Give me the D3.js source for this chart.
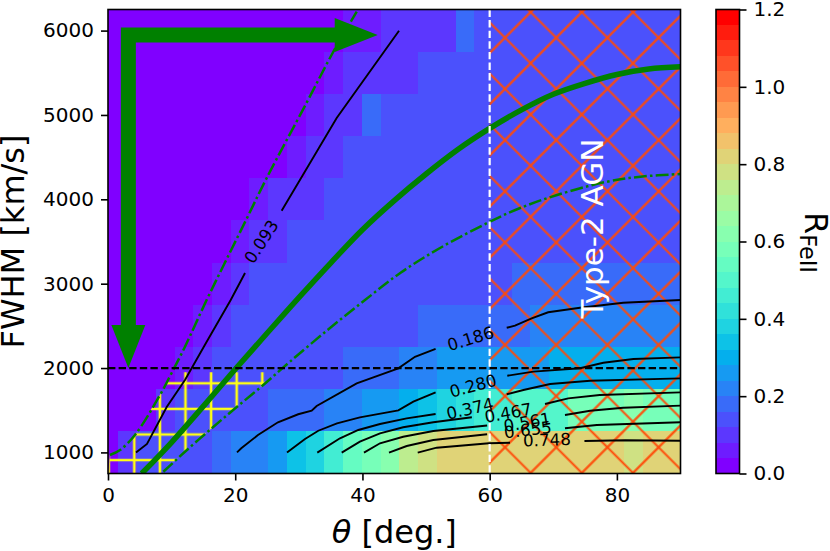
<!DOCTYPE html>
<html>
<head>
<meta charset="utf-8">
<script src="https://cdn.jsdelivr.net/npm/d3@7"></script>
<style>
  html, body { margin: 0; padding: 0; background: #fff; }
  text { font-family: "DejaVu Sans", sans-serif; fill: #000; }
</style>
</head>
<body>
<svg id="chart" width="830" height="551"></svg>
<script>
// cell edges of the map
var thetaEdges = [0, 1.62, 4.57, 7.51, 10.46, 13.40, 16.35, 19.29, 22.24, 25.18, 28.13, 31.07, 34.02, 36.96, 39.91, 42.85,
  45.80, 48.74, 51.69, 54.63, 57.58, 60.52, 63.47, 66.41, 69.36, 72.30, 75.25, 78.19, 81.14, 84.08, 87.03, 90];
var fwhmEdges = [750, 1250, 1750, 2250, 2750, 3250, 3750, 4250, 4750, 5250, 5750, 6250];

// R_FeII per cell, one row per FWHM bin
var row1000 = [.02,.10,.14,.14,.14,.14,.18,.22,.22,.26,.34,.38,.46,.54,.58,.62,.74,.78,.82,.82,.82,.82,.82,.82,.82,.82,.82,.82,.78,.82,.82];
var row1500 = [.02,.02,.02,.10,.14,.14,.14,.14,.14,.18,.18,.18,.22,.22,.26,.26,.30,.34,.38,.42,.46,.46,.50,.50,.50,.58,.58,.58,.62,.58,.58];
var row2000 = [.02,.02,.02,.02,.06,.10,.14,.14,.14,.14,.14,.14,.14,.18,.18,.18,.22,.22,.26,.26,.26,.26,.26,.26,.30,.30,.30,.30,.30,.30,.30];
var row2500 = [.02,.02,.02,.02,.02,.06,.10,.14,.14,.14,.14,.14,.14,.14,.14,.14,.14,.18,.18,.18,.18,.18,.18,.22,.22,.22,.22,.22,.22,.22,.22];
var row3000 = [.02,.02,.02,.02,.02,.02,.06,.10,.14,.14,.14,.14,.14,.14,.14,.14,.14,.14,.14,.14,.14,.14,.18,.18,.18,.18,.18,.18,.18,.18,.18];
var row3500 = [.02,.02,.02,.02,.02,.02,.02,.06,.10,.10,.14,.14,.14,.14,.14,.14,.14,.14,.14,.14,.14,.14,.14,.14,.14,.14,.14,.14,.14,.14,.14];
var row4000 = [.02,.02,.02,.02,.02,.02,.02,.02,.06,.10,.10,.10,.14,.14,.14,.14,.14,.14,.14,.14,.14,.14,.14,.14,.14,.14,.14,.14,.14,.14,.14];
var row4500 = [.02,.02,.02,.02,.02,.02,.02,.02,.02,.02,.06,.10,.10,.14,.14,.14,.14,.14,.14,.14,.14,.14,.14,.14,.14,.14,.14,.14,.14,.14,.14];
var row5000 = [.02,.02,.02,.02,.02,.02,.02,.02,.02,.02,.02,.06,.10,.10,.18,.14,.14,.14,.14,.14,.14,.14,.14,.14,.14,.14,.14,.14,.14,.14,.14];
var row5500 = [.02,.02,.02,.02,.02,.02,.02,.02,.02,.02,.02,.02,.06,.10,.10,.10,.10,.14,.14,.14,.14,.14,.14,.14,.14,.14,.14,.14,.14,.14,.14];
var row6000 = [.02,.02,.02,.02,.02,.02,.02,.02,.02,.02,.02,.02,.02,.06,.06,.10,.10,.10,.10,.18,.14,.14,.14,.14,.14,.14,.14,.14,.14,.14,.14];
var rows = [row1000, row1500, row2000, row2500, row3000, row3500, row4000, row4500, row5000, row5500, row6000];

// contour lines [theta, fwhm], each cut in two where the label sits
var contour093a = [[4.40,1000],[6.13,1100],[9.23,1538],[12.10,1858],[15.4,2297],[19.29,2806],[21.54,3127]];
var contour093b = [[27.3,3865],[35.95,4964],[45.75,5998]];
var contour186a = [[20.28,1001],[20.95,1049],[23.58,1206],[26.72,1357],[29.9,1452],[32.02,1494],[32.8,1550],[39.1,1819],[45.64,1997],[48.26,2134],[51.5,2226]];
var contour186b = [[62.68,2478],[63.98,2502],[66.6,2590],[69.2,2661],[74.2,2715],[81.0,2774],[90,2806]];
var contour280a = [[28.14,999],[30.97,1159],[33.06,1257],[36.0,1345],[39.6,1416],[45.64,1499],[48.0,1601],[51.5,1712]];
var contour280b = [[62.77,1909],[66.86,1957],[74.2,1997],[77.87,2063],[82.6,2107],[90,2127]];
var contour374a = [[32.9,997],[36.47,1167],[39.35,1266],[42.76,1337],[46.96,1404],[51.5,1455]];
var contour374b = [[62.68,1689],[65.3,1740],[69.5,1811],[75.8,1850],[90,1878]];
var contour467a = [[36.74,997],[39.6,1127],[42.76,1226],[46.4,1298],[51.14,1357],[57.2,1416]];
var contour467b = [[68.7,1574],[72.35,1641],[77.3,1680],[90,1712]];
var contour561a = [[40.24,997],[42.76,1108],[46.4,1186],[51.14,1254],[59.6,1319]];
var contour561b = [[71.84,1443],[75.8,1494],[81.0,1530],[90,1554]];
var contour655a = [[44.17,997],[46.96,1076],[51.14,1147],[59.6,1215]];
var contour655b = [[71.84,1286],[76.84,1325],[90,1357]];
var contour748a = [[48.69,997],[51.67,1056],[59.9,1108],[63.2,1115]];
var contour748b = [[74.9,1135],[81.3,1144],[90,1139]];
var contours = [contour093a, contour093b, contour186a, contour186b, contour280a, contour280b, contour374a, contour374b,
  contour467a, contour467b, contour561a, contour561b, contour655a, contour655b, contour748a, contour748b];

// contour labels: text, theta, fwhm, rotation
var labelTexts = ["0.093", "0.186", "0.280", "0.374", "0.467", "0.561", "0.655", "0.748"];
var labelThetas = [24.1, 57.0, 57.4, 56.9, 62.9, 65.9, 66.0, 69.0];
var labelFwhms = [3500, 2350, 1790, 1520, 1470, 1360, 1270, 1150];
var labelAngles = [-57, -17, -15, -13, -10, -10, -7, -2];

// green curves
var greenSolid = [[5.3,750],[10,1120],[15,1548],[20,1985],[25,2412],[30,2835],[35,3245],[40,3640],[45,3985],[50,4300],[55,4590],[60,4840],[65,5060],[70,5245],[75,5375],[80,5480],[85,5545],[90,5570]];
var greenUpper = [[0.3,969],[1.9,1029],[4.24,1206],[8.17,1680],[10.0,1941],[12.1,2253],[15.5,2806],[18.35,3245],[21.7,3755],[24.95,4253],[31.2,5142],[35.4,5746],[39.1,6224]];
var greenLower = [[8.7,771],[12.1,1008],[16.3,1286],[20.0,1523],[24.4,1799],[28.6,2075],[34.5,2450],[40.4,2806],[46,3130],[52.2,3423],[60.05,3735],[64.8,3897],[70.6,4051],[78.4,4208],[84,4270],[90,4300]];

var xTicks = [0, 20, 40, 60, 80];
var yTicks = [1000, 2000, 3000, 4000, 5000, 6000];
var cbarTicks = [0, 0.2, 0.4, 0.6, 0.8, 1.0, 1.2];

var type2Theta = 60;
var hatchTopFwhm = 1950;
var fwhmLimit = 2000;
var arrowTheta = 3.2;
var arrowEndTheta = 42.4;
var arrowEndFwhm = 2000;
var arrowTopFwhm = 6000;

var nLevels = 30;
var vmax = 1.2;

var left = 108, right = 680.5, top_ = 9.5, bottom = 473.5;
var svg = d3.select("#chart");
var x = d3.scaleLinear().domain([0, 90]).range([left, right]);
var y = d3.scaleLinear().domain([750, 6250]).range([bottom, top_]);
var cbarY = d3.scaleLinear().domain([0, vmax]).range([bottom, top_]);

// matplotlib "rainbow" cut into nLevels flat colours
var levelColor = function(k) {
  var t = k / (nLevels - 1);
  var r = Math.min(1, Math.abs(2 * t - 0.5));
  var g = Math.sin(Math.PI * t);
  var b = Math.cos(Math.PI * t / 2);
  return d3.rgb(r * 255, g * 255, b * 255).formatHex();
};
var valueColor = function(v) {
  return levelColor(Math.min(nLevels - 1, Math.floor(v / vmax * nLevels)));
};

var defs = svg.append("defs");
defs.append("clipPath").attr("id", "plotClip").append("rect")
  .attr("x", left).attr("y", top_).attr("width", right - left).attr("height", bottom - top_);

var hatchX = defs.append("pattern").attr("id", "hatchX")
  .attr("patternUnits", "userSpaceOnUse")
  .attr("width", 36.204).attr("height", 36.204)
  .attr("patternTransform", "translate(505,12.1) rotate(45)");
hatchX.append("path").attr("d", "M18.102,0V36.204M0,18.102H36.204")
  .attr("stroke", "#ff4a08").attr("stroke-width", 2.2).attr("fill", "none");

var hatchPlus = defs.append("pattern").attr("id", "hatchPlus")
  .attr("patternUnits", "userSpaceOnUse")
  .attr("width", 25.6).attr("height", 25.6)
  .attr("patternTransform", "translate(121.5,370.5)");
hatchPlus.append("path").attr("d", "M12.8,0V25.6M0,12.8H25.6")
  .attr("stroke", "#ffff14").attr("stroke-width", 2.6).attr("fill", "none");

var plot = svg.append("g").attr("clip-path", "url(#plotClip)");

// the map
rows.forEach(function(row, j) {
  plot.append("g").selectAll("rect")
    .data(row).enter()
    .append("rect")
    .attr("x", function(d, i) { return x(thetaEdges[i]); })
    .attr("width", function(d, i) { return x(thetaEdges[i + 1]) - x(thetaEdges[i]); })
    .attr("y", y(fwhmEdges[j + 1]))
    .attr("height", y(fwhmEdges[j]) - y(fwhmEdges[j + 1]))
    .attr("fill", valueColor)
    .attr("shape-rendering", "crispEdges");
});

var line = d3.line()
  .x(function(d) { return x(d[0]); })
  .y(function(d) { return y(d[1]); });
var smooth = d3.line()
  .x(function(d) { return x(d[0]); })
  .y(function(d) { return y(d[1]); })
  .curve(d3.curveCatmullRom);

// hatched zones
plot.append("rect")
  .attr("x", x(type2Theta)).attr("y", top_)
  .attr("width", right - x(type2Theta)).attr("height", bottom - top_)
  .attr("fill", "url(#hatchX)");

var upperPart = greenUpper.filter(function(d) { return d[1] <= hatchTopFwhm; });
var lowerPart = greenLower.filter(function(d) { return d[1] <= hatchTopFwhm; });
var hatchZone = [[0, 750]].concat(upperPart, [[10.1, hatchTopFwhm], [26.7, hatchTopFwhm]], lowerPart.reverse(), [[8.3, 750]]);
plot.append("path")
  .attr("d", line(hatchZone) + "Z")
  .attr("fill", "url(#hatchPlus)");

// contours
plot.append("g").selectAll("path")
  .data(contours).enter()
  .append("path")
  .attr("d", line)
  .attr("fill", "none")
  .attr("stroke", "#000")
  .attr("stroke-width", 1.9);

// green model curves
plot.append("path").attr("d", smooth(greenSolid))
  .attr("fill", "none").attr("stroke", "#008000").attr("stroke-width", 5.5);
[greenUpper, greenLower].forEach(function(c) {
  plot.append("path").attr("d", smooth(c))
    .attr("fill", "none").attr("stroke", "#008000").attr("stroke-width", 2.5)
    .attr("stroke-dasharray", "12.8,3.2,2.5,3.2");
});

// limits
plot.append("line")
  .attr("x1", left).attr("x2", right).attr("y1", y(fwhmLimit)).attr("y2", y(fwhmLimit))
  .attr("stroke", "#000").attr("stroke-width", 2.2).attr("stroke-dasharray", "7.4,3.2");
plot.append("line")
  .attr("x1", x(type2Theta)).attr("x2", x(type2Theta)).attr("y1", top_).attr("y2", bottom)
  .attr("stroke", "#fff").attr("stroke-width", 2.2).attr("stroke-dasharray", "7.4,3.2");

// contour labels
svg.append("g").selectAll("text")
  .data(labelTexts).enter()
  .append("text")
  .attr("text-anchor", "middle")
  .attr("dominant-baseline", "central")
  .attr("transform", function(d, i) {
    return "translate(" + x(labelThetas[i]) + "," + y(labelFwhms[i]) + ") rotate(" + labelAngles[i] + ")";
  })
  .style("font-size", "16.7px")
  .text(function(d) { return d; });

// big green arrows
var barHalf = 7.5, headHalf = 17, headLen = 43;
var ax = x(arrowTheta), ay = y(arrowTopFwhm) + 4.5;
var tipX = x(arrowEndTheta), tipY = y(arrowEndFwhm);
var arrowShape = d3.path();
arrowShape.moveTo(ax - barHalf, ay - barHalf);
arrowShape.lineTo(tipX - headLen, ay - barHalf);
arrowShape.lineTo(tipX - headLen, ay - headHalf);
arrowShape.lineTo(tipX, ay);
arrowShape.lineTo(tipX - headLen, ay + headHalf);
arrowShape.lineTo(tipX - headLen, ay + barHalf);
arrowShape.lineTo(ax + barHalf, ay + barHalf);
arrowShape.lineTo(ax + barHalf, tipY - headLen);
arrowShape.lineTo(ax + headHalf, tipY - headLen);
arrowShape.lineTo(ax, tipY);
arrowShape.lineTo(ax - headHalf, tipY - headLen);
arrowShape.lineTo(ax - barHalf, tipY - headLen);
arrowShape.closePath();
svg.append("path").attr("d", arrowShape.toString()).attr("fill", "#008000");

// Type-2 AGN
svg.append("text")
  .attr("text-anchor", "middle")
  .attr("transform", "translate(603,228.5) rotate(-90)")
  .style("font-size", "31px")
  .style("fill", "#fff")
  .text("Type-2 AGN");

// frame and axes
svg.append("rect")
  .attr("x", left).attr("y", top_).attr("width", right - left).attr("height", bottom - top_)
  .attr("fill", "none").attr("stroke", "#000").attr("stroke-width", 1.6);

var styleAxis = function(g) {
  g.select(".domain").remove();
  g.selectAll(".tick line").attr("stroke", "#000").attr("stroke-width", 1.6);
  g.selectAll(".tick text").style("font-size", "20px").style("font-family", '"DejaVu Sans", sans-serif');
};

svg.append("g")
  .attr("transform", "translate(0," + bottom + ")")
  .call(d3.axisBottom(x).tickValues(xTicks).tickFormat(d3.format("d")).tickSize(7).tickPadding(7))
  .call(styleAxis);
svg.append("g")
  .attr("transform", "translate(" + left + ",0)")
  .call(d3.axisLeft(y).tickValues(yTicks).tickFormat(d3.format("d")).tickSize(7).tickPadding(7))
  .call(styleAxis);

var xLabel = svg.append("text")
  .attr("x", (left + right) / 2 + 0)
  .attr("y", 543)
  .attr("text-anchor", "middle")
  .style("font-size", "32px");
xLabel.append("tspan").style("font-style", "italic").text("\u03b8");
xLabel.append("tspan").text(" [deg.]");

svg.append("text")
  .attr("text-anchor", "middle")
  .attr("transform", "translate(24," + (top_ + bottom) / 2 + ") rotate(-90)")
  .style("font-size", "32px")
  .text("FWHM [km/s]");

// colorbar
var cbarLeft = 716, cbarRight = 739.5;
var levels = d3.range(nLevels);
svg.append("g").selectAll("rect")
  .data(levels).enter()
  .append("rect")
  .attr("x", cbarLeft)
  .attr("width", cbarRight - cbarLeft)
  .attr("y", function(k) { return cbarY((k + 1) * vmax / nLevels); })
  .attr("height", function(k) { return cbarY(k * vmax / nLevels) - cbarY((k + 1) * vmax / nLevels); })
  .attr("fill", levelColor)
  .attr("shape-rendering", "crispEdges");
svg.append("rect")
  .attr("x", cbarLeft).attr("y", top_).attr("width", cbarRight - cbarLeft).attr("height", bottom - top_)
  .attr("fill", "none").attr("stroke", "#000").attr("stroke-width", 1.6);
svg.append("g")
  .attr("transform", "translate(" + cbarRight + ",0)")
  .call(d3.axisRight(cbarY).tickValues(cbarTicks).tickFormat(d3.format(".1f")).tickSize(7).tickPadding(7))
  .call(styleAxis);

var cbarLabel = svg.append("text")
  .attr("transform", "translate(805,212) rotate(90)")
  .style("font-size", "32px");
cbarLabel.append("tspan").text("R");
cbarLabel.append("tspan").attr("dy", 5).style("font-size", "22.4px").text("FeII");
</script>
</body>
</html>
